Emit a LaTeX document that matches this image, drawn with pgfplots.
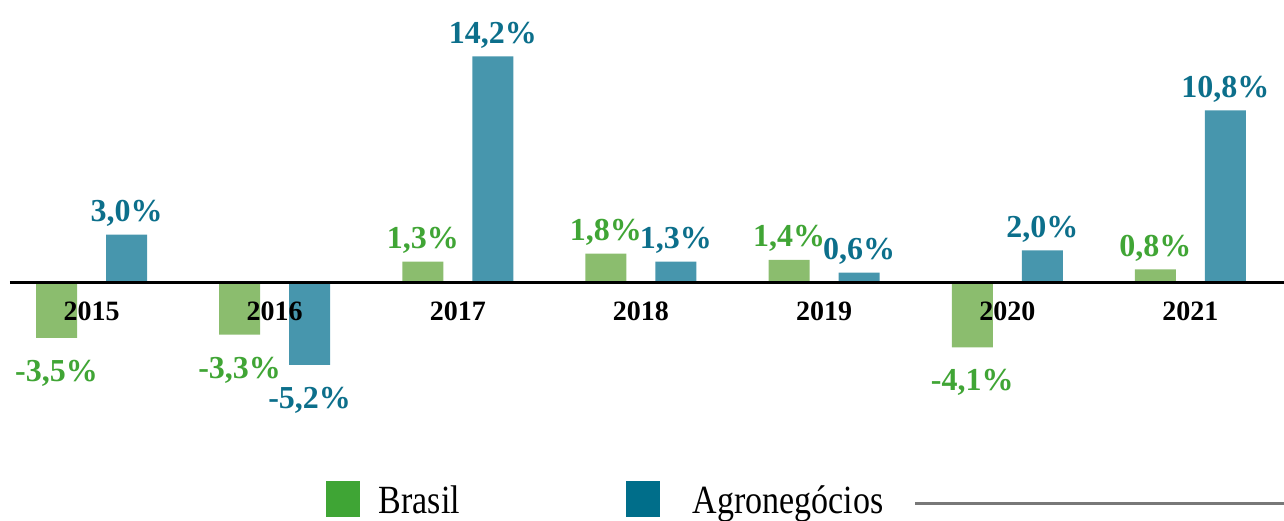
\documentclass[border=0pt]{standalone}
\usepackage{fontspec}
\setmainfont{Liberation Serif}
\newfontfamily\legfont[FakeStretch=0.85]{Liberation Serif}
\usepackage{pgfplots}
\pgfplotsset{compat=1.18}
\definecolor{barGreen}{HTML}{8BBD6E}
\definecolor{barBlue}{HTML}{4796AD}
\definecolor{lblGreen}{HTML}{40A535}
\definecolor{lblBlue}{HTML}{0C6F8B}
\definecolor{legGreen}{HTML}{3FA535}
\definecolor{legBlue}{HTML}{006E8A}
\definecolor{lineGray}{RGB}{120,120,120}
\begin{document}
\begin{tikzpicture}
\useasboundingbox (0,0) rectangle (642pt,260pt);
\begin{axis}[
  at={(5pt,71.2pt)}, anchor=south west,
  scale only axis, width=637pt, height=166.95pt,
  xmin=-0.445, xmax=6.5106, ymin=-6, ymax=15,
  axis x line=middle, axis y line=none,
  x axis line style={-, line width=1.5pt, black},
  xtick={0,1,2,3,4,5,6},
  xticklabels={2015,2016,2017,2018,2019,2020,2021},
  major tick length=0pt,
  xticklabel style={font=\fontsize{14}{16}\selectfont\bfseries, anchor=base, yshift=-19pt, inner sep=0pt},
  hide obscured x ticks=false,
  ytick=\empty,
  axis on top,
  ybar, bar width=20.5pt,
  point meta=y,
  nodes near coords={\pgfmathprintnumber[assume math mode=true, fixed, fixed zerofill, precision=1, use comma]{\pgfplotspointmeta}\%},
  nodes near coords align=vertical,
  every node near coord/.append style={font=\fontsize{16}{19}\selectfont\bfseries, inner xsep=0pt, inner ysep=6.5pt, text depth=0pt, text height=15pt},
  clip=false,
  legend columns=2,
  legend cell align=left,
  legend style={at={(0.24804,-0.3642)}, anchor=west, draw=none, fill=none,
    inner sep=0pt, outer sep=0pt, nodes={inner sep=0pt},
    font=\legfont\fontsize{20}{24}\selectfont,
    /tikz/every odd column/.append style={column sep=9.5pt}},
]
\addplot[fill=barGreen, draw=none, bar shift=-17.5pt, forget plot,
  every node near coord/.append style={text=lblGreen}]
  coordinates {(0,-3.5) (1,-3.3) (2,1.3) (3,1.8) (4,1.4) (5,-4.1) (6,0.8)};
\addplot[fill=barBlue, draw=none, bar shift=17.5pt, forget plot,
  every node near coord/.append style={text=lblBlue}]
  coordinates {(0,3.0) (1,-5.2) (2,14.2) (3,1.3) (4,0.6) (5,2.0) (6,10.8)};
\addlegendimage{legend image code/.code={\fill[legGreen] (0pt,-8pt) rectangle (16.5pt,9.5pt);}}
\addlegendentry{\makebox[123.5pt][l]{Brasil}}
\addlegendimage{legend image code/.code={\fill[legBlue] (0pt,-8pt) rectangle (16.5pt,9.5pt);}}
\addlegendentry{\hspace*{7pt}Agronegócios}
\end{axis}
\draw[line width=1.3pt, lineGray] (457.5pt,8.2pt) -- (642pt,8.2pt);
\end{tikzpicture}
\end{document}
